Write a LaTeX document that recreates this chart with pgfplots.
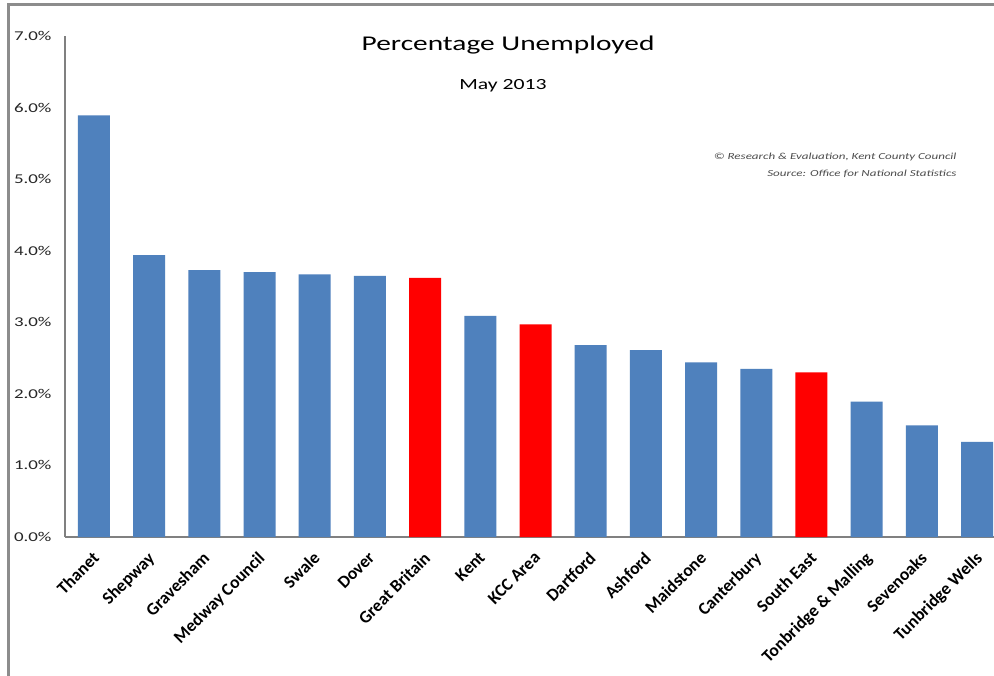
\documentclass[border=0pt]{standalone}
\usepackage{pgfplots}
\pgfplotsset{compat=1.18}
\usepackage{fontspec}
\setmainfont{Carlito}[FakeStretch=1.4]
\newfontfamily\labelfont{Carlito}
\definecolor{barblue}{RGB}{79,129,189}
\definecolor{barred}{RGB}{255,0,0}
\definecolor{framegray}{RGB}{140,140,140}
\definecolor{axgray}{RGB}{128,128,128}
\begin{document}
\begin{tikzpicture}
\useasboundingbox (-65bp,-139bp) rectangle (929bp,537bp);
\clip (-65bp,-139bp) rectangle (929bp,537bp);
\fill[white] (-65bp,-139bp) rectangle (929bp,537bp);
\begin{axis}[at={(0,0)}, anchor=south west, scale only axis,
  width=941bp, height=501bp,
  xmin=-0.525, xmax=16.525, ymin=0, ymax=7,
  axis x line*=bottom, axis y line*=left,
  axis line style={-, axgray, line width=2.5bp},
  ytick={0,1,2,3,4,5,6,7}, major tick length=0pt,
  /pgf/number format/assume math mode=true,
  yticklabel={\pgfmathprintnumber[fixed,fixed zerofill,precision=1]{\tick}\%},
  yticklabel style={font=\fontsize{13.5bp}{15bp}\selectfont, xshift=-10bp, text=black!85},
  xtick={0,1,...,16},
  xticklabels={Thanet, Shepway, Gravesham, Medway Council, Swale, Dover, Great Britain, Kent, KCC Area, Dartford, Ashford, Maidstone, Canterbury, South East, Tonbridge \& Malling, Sevenoaks, Tunbridge Wells},
  xticklabel style={xshift=-2.5bp, yshift=-12bp, rotate=45, anchor=north east, inner sep=1bp, font=\labelfont\bfseries\fontsize{17.5bp}{19bp}\selectfont},
  ybar, bar width=32bp,
]
\addplot[fill=barblue, draw=none, bar shift=0pt] coordinates {
 (0,5.89) (1,3.94) (2,3.73) (3,3.70) (4,3.67) (5,3.65) (7,3.09)
 (9,2.68) (10,2.61) (11,2.44) (12,2.35) (14,1.89) (15,1.56) (16,1.33)};
\addplot[fill=barred, draw=none, bar shift=0pt] coordinates {
 (6,3.62) (8,2.97) (13,2.30)};
\end{axis}
\node[font=\fontsize{21bp}{24bp}\selectfont] at (443bp,492bp) {Percentage Unemployed};
\node[font=\fontsize{15.5bp}{18bp}\selectfont] at (438bp,451bp) {May 2013};
\node[anchor=east, font=\itshape\fontsize{9.3bp}{11bp}\selectfont, text=black!70] at (895bp,380bp) {© Research \& Evaluation, Kent County Council};
\node[anchor=east, font=\itshape\fontsize{9.3bp}{11bp}\selectfont, text=black!70] at (895bp,363bp) {Source: Office for National Statistics};
\draw[framegray, line width=3bp] (-56bp,-145bp) -- (-56bp,532bp) -- (935bp,532bp);
\end{tikzpicture}
\end{document}
